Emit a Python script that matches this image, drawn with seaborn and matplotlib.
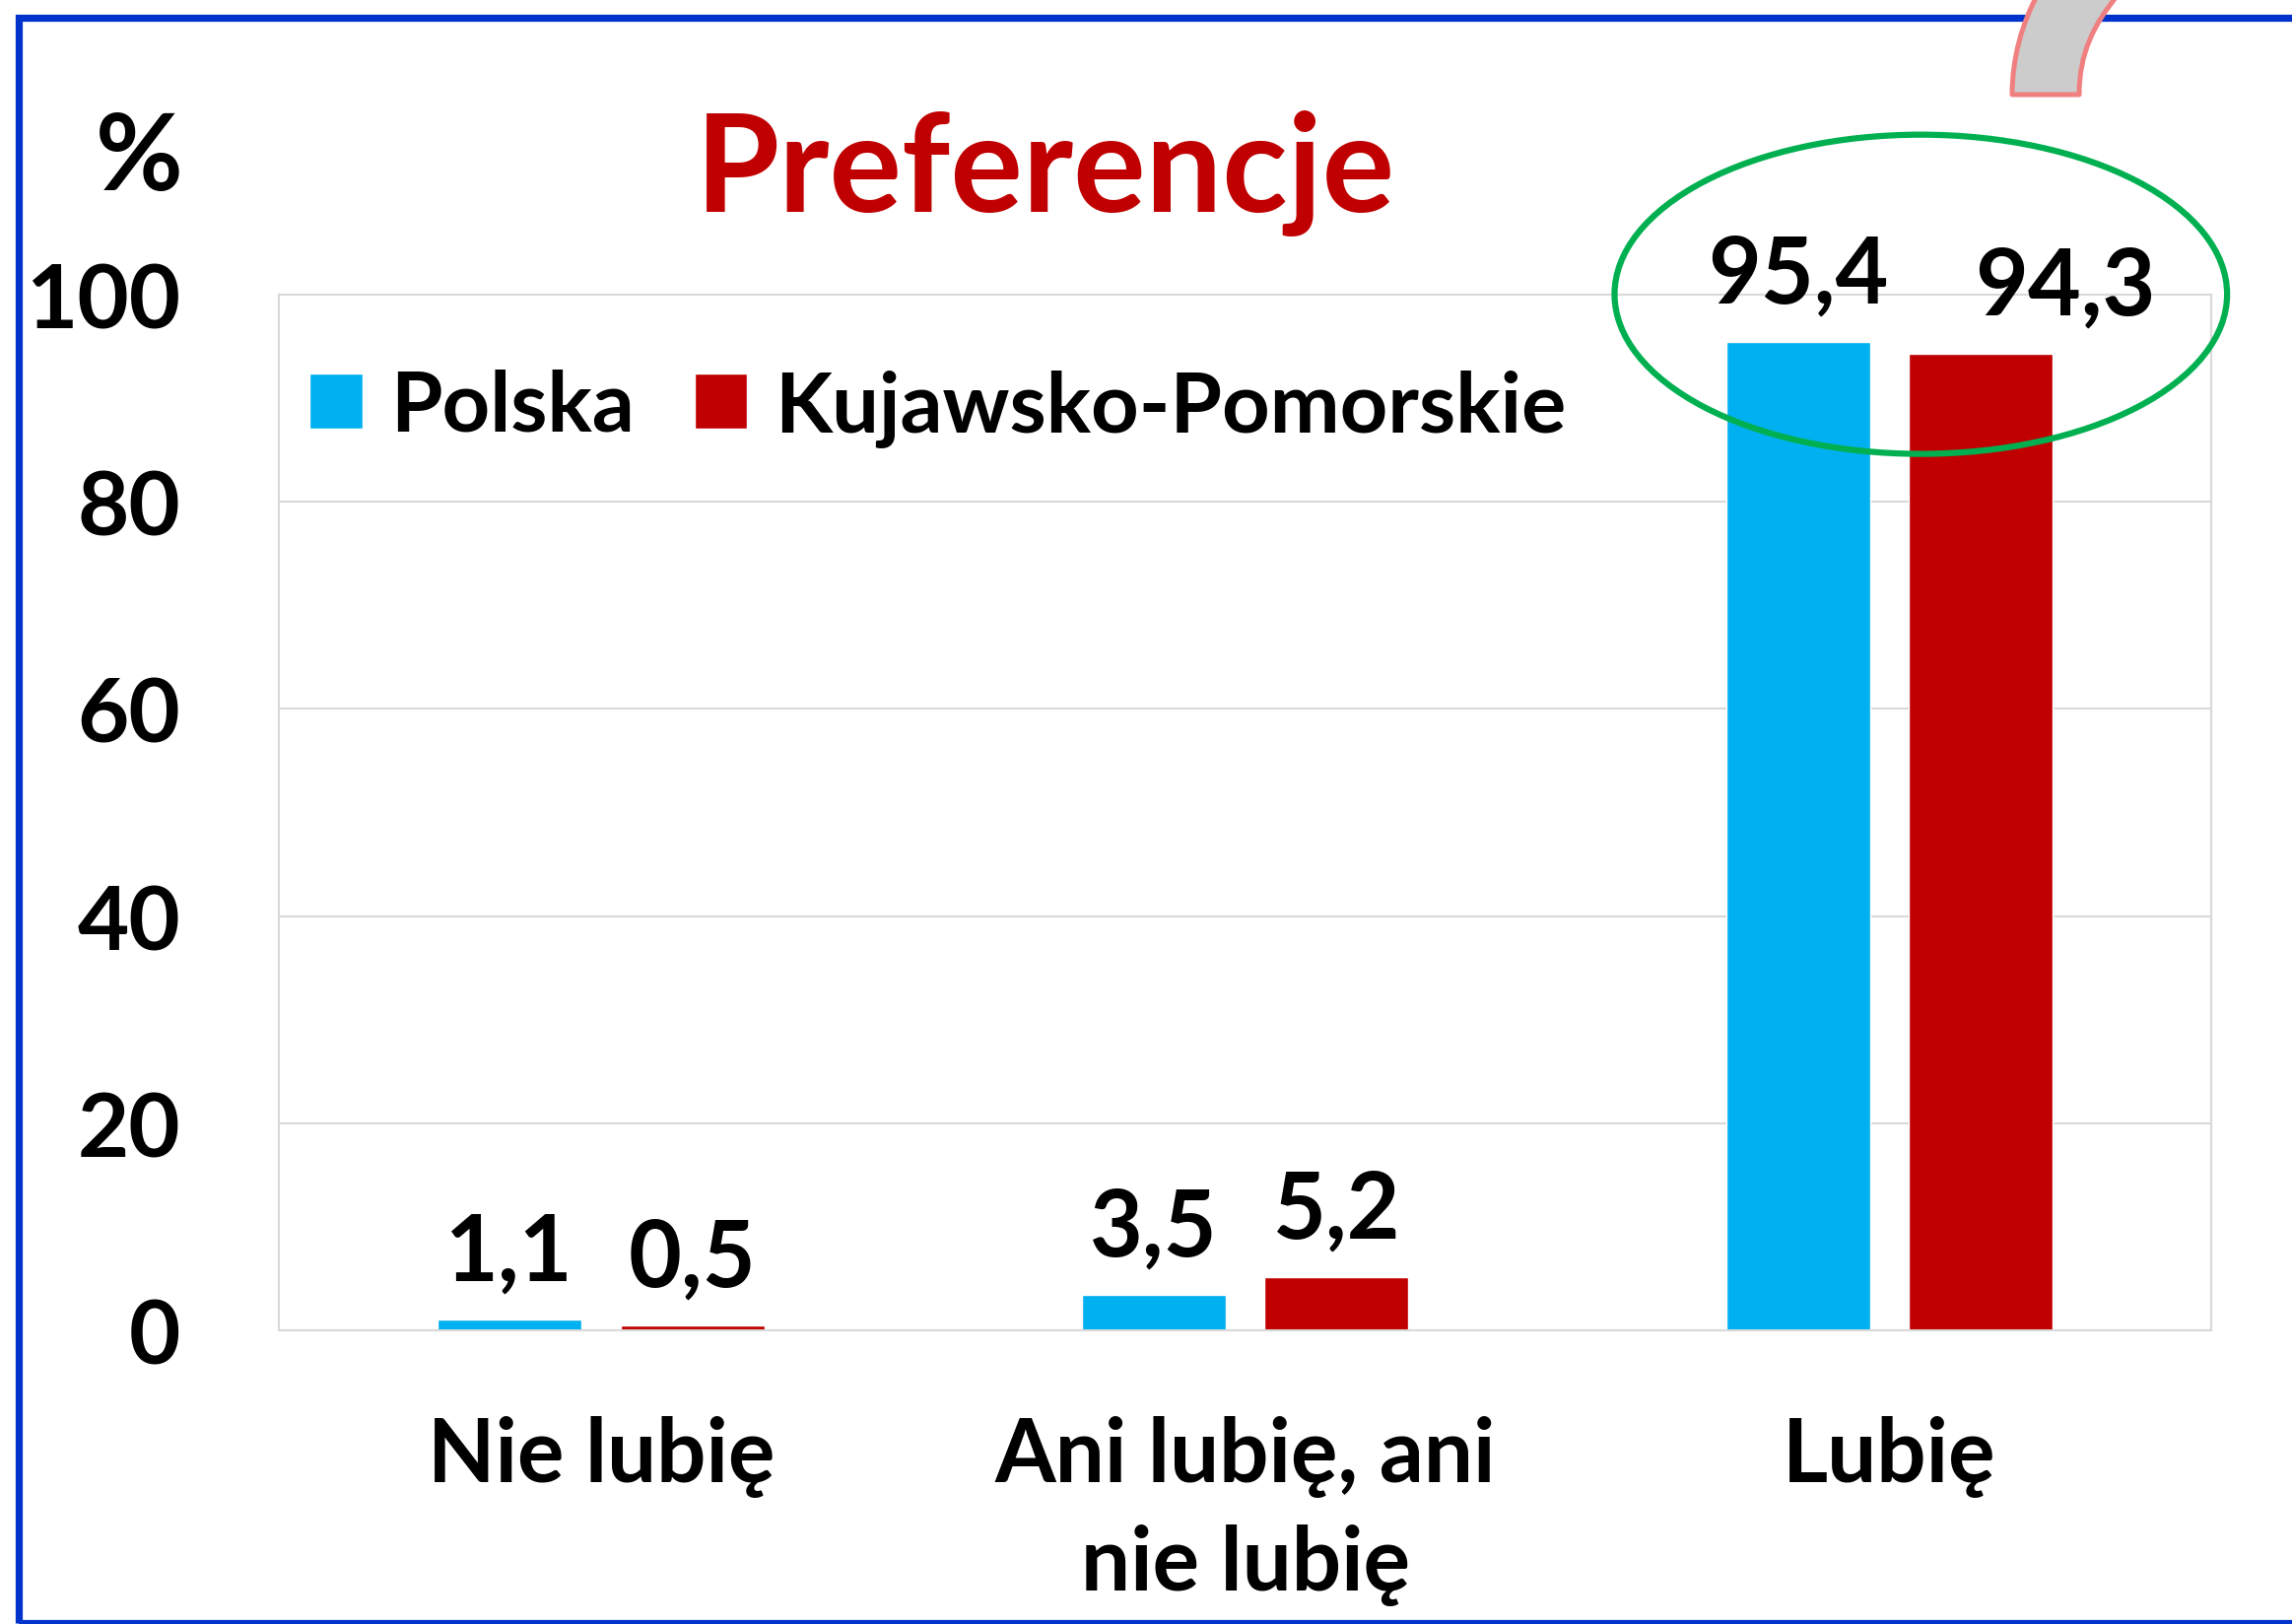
import pandas as pd
import matplotlib.pyplot as plt
import matplotlib.patches as mpatches
from matplotlib.path import Path
import seaborn as sns

kategorie = ['Nie lubię', 'Ani lubię, ani\nnie lubię', 'Lubię']
regiony = ['Polska', 'Kujawsko-Pomorskie']
polska = [1.1, 3.5, 95.4]
kujawsko = [0.5, 5.2, 94.3]
kolory = ['#00B0F0', '#C00000']
yticks = [0, 20, 40, 60, 80, 100]

dane = pd.DataFrame({
    'kategoria': kategorie * 2,
    'region': [regiony[0]] * 3 + [regiony[1]] * 3,
    'procent': polska + kujawsko,
})

sns.set_theme(style='white')
plt.rcParams['font.family'] = ['Lato', 'DejaVu Sans']
plt.rcParams['font.weight'] = 'bold'
plt.rcParams['text.color'] = 'black'
plt.rcParams['xtick.color'] = 'black'
plt.rcParams['ytick.color'] = 'black'

W, H = 2326, 1649
fig = plt.figure(figsize=(W / 100, H / 100), dpi=100)
ax = fig.add_axes([0.1217, 0.1805, 0.8431, 0.6378])

sns.barplot(data=dane, x='kategoria', y='procent', hue='region', palette=kolory,
            width=0.567, gap=0.212, ax=ax, saturation=1)

ax.set_xlim(-0.5, 2.5)
ax.set_ylim(0, 100)
ax.set_yticks(yticks)
ax.set_xlabel('')
ax.set_ylabel('')
ax.yaxis.grid(True, color='#D9D9D9', lw=1.5)
ax.set_axisbelow(True)
for s in ax.spines.values():
    s.set_color('#D9D9D9')
    s.set_linewidth(1.5)
ax.tick_params(axis='y', length=0, pad=72, labelsize=65, labelcolor='black')
ax.tick_params(axis='x', length=0, pad=62, labelsize=64, labelcolor='black')
for lab in ax.get_xticklabels() + ax.get_yticklabels():
    lab.set_fontweight('bold')
for lab in ax.get_xticklabels():
    lab.set_linespacing(1.4)

# etykiety wartosci
przesuniecie = {(1, 2): 62}
for i, (cont, wart) in enumerate(zip(ax.containers, [polska, kujawsko])):
    for j, (bar, v) in enumerate(zip(cont, wart)):
        ax.annotate(f'{v:.1f}'.replace('.', ','),
                    (bar.get_x() + bar.get_width() / 2, bar.get_height()),
                    xytext=(przesuniecie.get((i, j), 0), 29), textcoords='offset points',
                    ha='center', va='baseline', fontsize=67, fontweight='bold',
                    color='black', annotation_clip=False)

handles, labels = ax.get_legend_handles_labels()
leg = ax.legend(handles, labels, ncol=2, frameon=False, loc='center left',
                bbox_to_anchor=(0.016, 0.891), borderpad=0, borderaxespad=0,
                handlelength=0.63, handleheight=0.63,
                handletextpad=0.33, columnspacing=0.72,
                prop={'weight': 'bold', 'size': 61})
for t in leg.get_texts():
    t.set_color('black')

# elipsa wokol wartosci "Lubię"
ax.add_patch(mpatches.Ellipse((2.049, 100), 0.951, 30.8, fill=False,
                              edgecolor='#00B050', lw=4.5, clip_on=False, zorder=10))

fig.text(0.456, 0.8696, 'Preferencje', color='#C00000', fontsize=99,
         fontweight='bold', ha='center', va='baseline')
fig.text(0.0606, 0.883, '%', fontsize=78, fontweight='bold', ha='center', va='baseline')

# niebieska ramka slajdu
fig.patches.append(mpatches.Rectangle((18.5 / W, 1.5 / H), 1.2, 1 - 20.5 / H,
                                      transform=fig.transFigure, fill=False,
                                      edgecolor='#0033CC', lw=5.2, zorder=1))

# fragment szarej strzalki u gory
def p(x, y):
    return (x / W, 1 - y / H)

verts = [p(2042, 97), p(2110, 97), p(2110, 55), p(2125, 25), p(2150, -5),
         p(2068, -5), p(2052, 25), p(2042, 60), p(2042, 97), p(2042, 97)]
codes = [Path.MOVETO, Path.LINETO, Path.CURVE4, Path.CURVE4, Path.CURVE4,
         Path.LINETO, Path.CURVE4, Path.CURVE4, Path.CURVE4, Path.CLOSEPOLY]
fig.patches.append(mpatches.PathPatch(Path(verts, codes), transform=fig.transFigure,
                                      facecolor='#CCCCCC', edgecolor='#F08080',
                                      lw=3.6, joinstyle='round', zorder=2))

fig.savefig('out.png', dpi=100)
